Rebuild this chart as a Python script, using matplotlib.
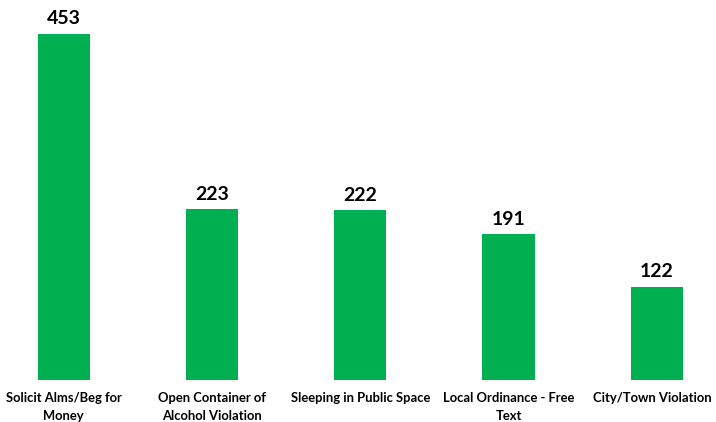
import matplotlib.pyplot as plt

categories = ['Solicit Alms/Beg for\nMoney', 'Open Container of\nAlcohol Violation',
              'Sleeping in Public Space', 'Local Ordinance - Free\nText', 'City/Town Violation']
counts = [453, 223, 222, 191, 122]

plt.rcParams['font.family'] = ['Lato', 'DejaVu Sans']

fig = plt.figure(figsize=(7.16, 4.22), dpi=100)
ax = fig.add_axes([0, 42 / 422, 1, 380 / 422])

x = list(range(len(counts)))
ax.bar(x, counts, width=0.352, color='#00B050')
for xi, v in zip(x, counts):
    ax.annotate(str(v), (xi, v), xytext=(0, 4.5), textcoords='offset points',
                ha='center', va='bottom', fontsize=14, fontweight='bold')

# category labels under the bars (last one nudged left so it fits)
nudge = [0, 0, 0, 0, -3]
for xi, lab, dx in zip(x, categories, nudge):
    ax.annotate(lab, (xi, 0), xytext=(dx, -9), textcoords='offset points',
                ha='center', va='top', fontsize=9.4, fontweight='bold',
                linespacing=1.5, annotation_clip=False)

ax.set_xlim(-0.43, 4.40)
ax.set_ylim(0, 497)
ax.set_xticks([])
ax.set_yticks([])
for s in ax.spines.values():
    s.set_visible(False)

fig.savefig('out.png', dpi=100)
